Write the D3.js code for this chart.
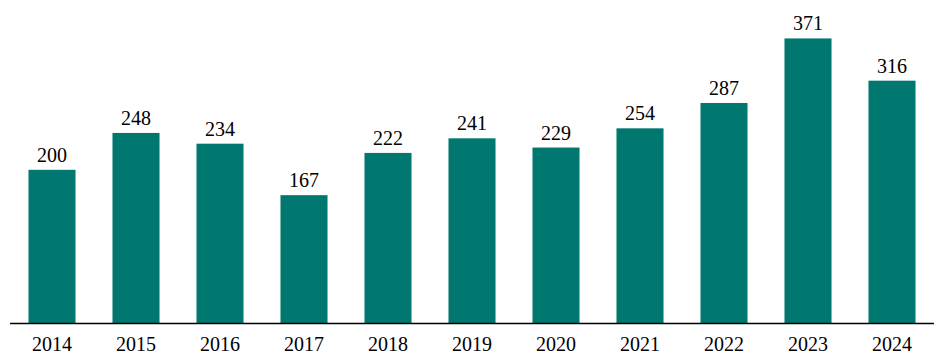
<!DOCTYPE html>
<html>
<head>
<meta charset="utf-8">
<script src="https://cdn.jsdelivr.net/npm/d3@7"></script>
<style>
  body { margin: 0; background: #fff; }
</style>
</head>
<body>
<div id="chart"></div>
<script>
// ---------------------- data ----------------------
var years = ["2014", "2015", "2016", "2017", "2018", "2019", "2020", "2021", "2022", "2023", "2024"];
var values = [200, 248, 234, 167, 222, 241, 229, 254, 287, 371, 316];

var serif = "'Liberation Serif', 'Times New Roman', serif";

// ---------------------- setup ----------------------
var width = 949, height = 363;
var svg = d3.select("#chart")
     .append("svg")
     .attr("width", width)
     .attr("height", height);

var x = d3.scaleBand()
     .domain(years)
     .range([10, 934])
     .paddingInner(0.44)
     .paddingOuter(0.22);

var y = d3.scaleLinear()
     .domain([0, 421])
     .range([323.5, 0]);

// ---------------------- bars ----------------------
svg.selectAll("rect.bar")
     .data(values)
     .enter()
     .append("rect")
     .attr("class", "bar")
     .attr("x", function(d, i) { return x(years[i]); })
     .attr("y", function(d) { return y(d); })
     .attr("width", x.bandwidth())
     .attr("height", function(d) { return y(0) - y(d); })
     .attr("fill", "#00786f");

// value labels
svg.selectAll("text.val")
     .data(values)
     .enter()
     .append("text")
     .attr("class", "val")
     .attr("x", function(d, i) { return x(years[i]) + x.bandwidth() / 2; })
     .attr("y", function(d) { return y(d) - 8; })
     .attr("text-anchor", "middle")
     .style("font-family", serif)
     .style("font-size", "20px")
     .attr("fill", "#000")
     .text(function(d) { return d; });

// ---------------------- axis ----------------------
var axis = svg.append("g")
     .attr("transform", "translate(0," + y(0) + ")")
     .call(d3.axisBottom(x).tickSize(0).tickPadding(13));

axis.select(".domain")
     .attr("d", "M10,0H934")
     .attr("stroke", "#000")
     .attr("stroke-width", 1.3);

axis.selectAll(".tick text")
     .style("font-size", "20px")
     .style("font-family", serif)
     .attr("fill", "#000");
</script>
</body>
</html>
